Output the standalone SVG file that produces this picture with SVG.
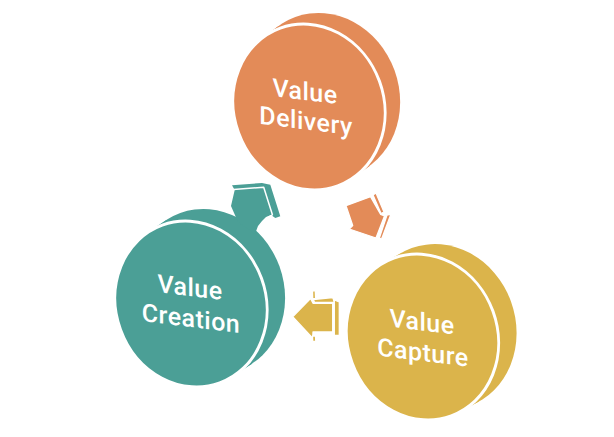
<svg xmlns="http://www.w3.org/2000/svg" width="614" height="437" viewBox="0 0 614 437">
<style>
.t{font-family:Roboto,"Liberation Sans",sans-serif;font-weight:500;font-size:25px;letter-spacing:0.5px;fill:#fff;text-anchor:middle}
.o{fill:#E38B58}.g{fill:#4B9F96}.y{fill:#DBB44B}
.f{stroke:#fff;stroke-width:3}
.a{stroke:#fff;stroke-width:1.3;stroke-linejoin:round}
.w{fill:none;stroke:#fff;stroke-width:1.5;stroke-linejoin:round}
</style>
<defs>
<ellipse id="e" cx="0" cy="0" rx="75" ry="84"/>
</defs>
<rect width="614" height="437" fill="#fff"/>
<g id="node-delivery" class="o">
<g transform="translate(309,107) rotate(-20)">
<use href="#e" x="17.9" y="-5.2"/>
<polygon points="18.9,81.3 36.8,76.1 -1,-86.5 -18.9,-81.3"/>
<use href="#e" class="f"/>
</g>
<text class="t" transform="translate(305,100) skewY(7)">Value</text>
<text class="t" transform="translate(306,129.5) skewY(7)">Delivery</text>
</g>
<g id="node-creation" class="g">
<g transform="translate(191,304) rotate(-20)">
<use href="#e" x="21" y="-5.1"/>
<polygon points="15.9,82.1 36.9,77 5.1,-87.2 -15.9,-82.1"/>
<use href="#e" class="f"/>
</g>
<text class="t" transform="translate(190,296) skewY(7)">Value</text>
<text class="t" transform="translate(191,327) skewY(7)">Creation</text>
</g>
<g id="node-capture" class="y">
<g transform="translate(422.5,337) rotate(-20)">
<use href="#e" x="20.3" y="-3.2"/>
<polygon points="10.6,83.2 30.9,80 9.7,-86.4 -10.6,-83.2"/>
<use href="#e" class="f"/>
</g>
<text class="t" transform="translate(422,330.5) skewY(7)">Value</text>
<text class="t" transform="translate(423,361) skewY(7)">Capture</text>
</g>
<g id="connectors">
<g id="arrow-creation-delivery" class="g">
<polygon points="232,185.3 262,183 270.3,184.7 280.3,216.3 275.3,218 271,215 266,217 262,221 258,226 255,234 238,222 231,206 234.7,190"/>
<path class="w" d="M233.5,189.5 L263.7,187.3 L272.5,215 M272.5,215 L268,217.5 L263.5,221.5 L259,228"/>
</g>
<g id="arrow-delivery-capture" class="o">
<polygon class="a" points="346,205.7 370.5,196.7 380.7,214.3 384.5,216 376,238 349.3,229 352.7,225.5"/>
<polygon class="a" points="373,195 376,193 384,212 381,213.5"/>
<polygon class="a" points="387,215 391,214 382,238 379,239"/>
</g>
<g id="arrow-capture-creation" class="y">
<polygon class="a" points="312.5,291 315.3,290.5 315.6,298.5 312.7,299"/>
<polygon class="a" points="292.7,316.7 310.5,298.5 313,303.3 332.7,303.3 332.7,332 313,332 312.7,338.3"/>
<polygon class="a" points="313.3,299.5 332.7,297.5 334.5,302.3 314.5,302.3"/>
<polygon class="a" points="334.3,300 339.3,302 339.3,335.5 334.3,335.5"/>
<polygon class="a" points="312.5,336 315.5,336 315.8,341.5 312.7,341.5"/>
</g>
</g>
</svg>
